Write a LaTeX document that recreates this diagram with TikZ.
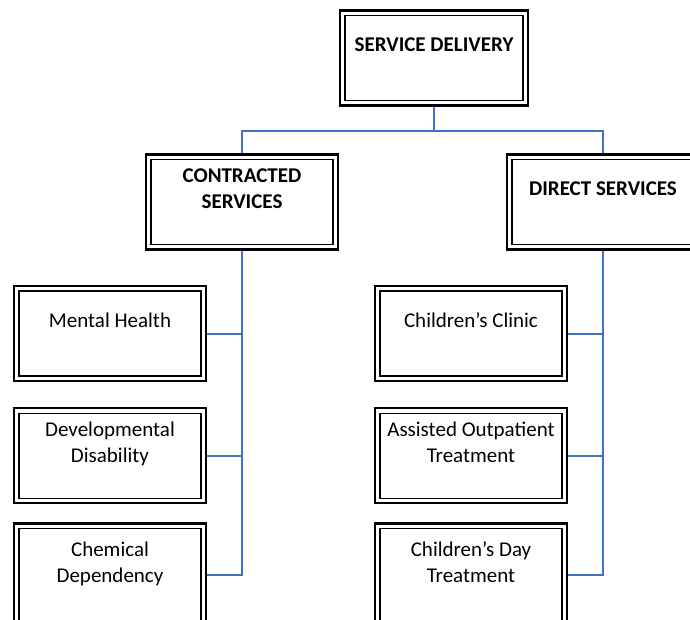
\documentclass[tikz,border=0pt]{standalone}
\usepackage{fontspec}
\setmainfont{Carlito}
\usepackage{xcolor}
\usepackage{tikz}
\usetikzlibrary{positioning}

\definecolor{linkblue}{HTML}{4472C4}

\begin{document}
\begin{tikzpicture}[
    x=1pt, y=1pt,
    box/.style={rectangle, draw=black, line width=2.2pt, fill=white, align=center, inner sep=3pt,
        minimum width=192pt, minimum height=95pt, text depth=26pt,
        font=\fontsize{21}{26}\selectfont,
        path picture={\draw[line width=1.4pt] ([shift={(5pt,-5pt)}]path picture bounding box.north west) rectangle ([shift={(-5pt,5pt)}]path picture bounding box.south east);}},
    head/.style={box, font=\fontsize{21}{26}\selectfont\bfseries},
    lastbox/.style={box, minimum height=104pt},
    link/.style={draw=linkblue, line width=2pt}
]
\useasboundingbox (0,0) rectangle (690,-620);

\node[head, minimum width=188pt] (delivery) at (434,-58) {SERVICE DELIVERY};
\node[head] (contracted) at (242,-202) {CONTRACTED\\SERVICES};
\node[head] (direct) at (603,-202) {DIRECT SERVICES};

% contracted side
\node[box] (mental) at (110,-333.5) {Mental Health};
\node[box, below=25pt of mental] (develop) {Developmental\\Disability};
\node[lastbox, below=18pt of develop] (chemical) {Chemical\\Dependency};

% direct side
\node[box] (clinic) at (471,-333.5) {Children’s Clinic};
\node[box, below=25pt of clinic] (outpatient) {Assisted Outpatient\\Treatment};
\node[lastbox, below=18pt of outpatient] (daytreat) {Children’s Day\\Treatment};

\draw[link] (delivery.south) -- ++(0,-24) -| (contracted.north);
\draw[link] (delivery.south) -- ++(0,-24) -| (direct.north);

\draw[link] (contracted.south) |- (mental.east);
\draw[link] (contracted.south) |- (develop.east);
\draw[link] (contracted.south) |- (chemical.east);

\draw[link] (direct.south) |- (clinic.east);
\draw[link] (direct.south) |- (outpatient.east);
\draw[link] (direct.south) |- (daytreat.east);

\end{tikzpicture}
\end{document}
